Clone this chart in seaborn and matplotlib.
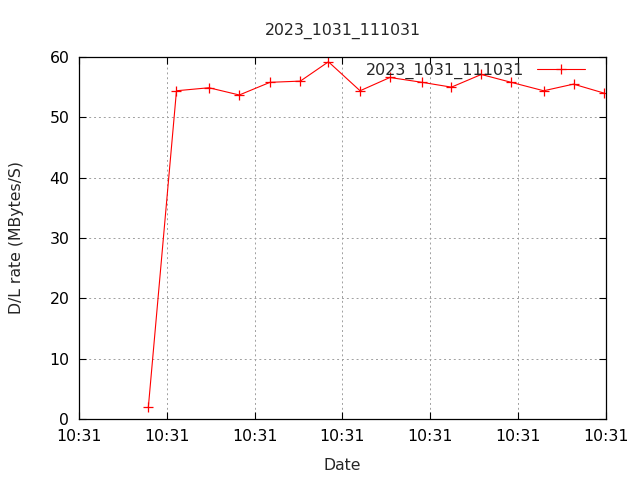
import pandas as pd
import matplotlib
matplotlib.use("Agg")
import matplotlib.pyplot as plt
import seaborn as sns

# seconds after 10:31:00 and download rate
seconds = [7.9, 11.1, 14.8, 18.25, 21.75, 25.2, 28.4, 32.0, 35.4, 39.05,
           42.4, 45.8, 49.2, 52.9, 56.3, 59.8]
rate = [2.0, 54.4, 54.9, 53.7, 55.8, 56.0, 59.2, 54.4, 56.6, 55.8,
        55.0, 57.1, 55.8, 54.4, 55.5, 54.0]
x_ticks = [0, 10, 20, 30, 40, 50, 60]
x_tick_labels = ["10:31"] * 7
y_ticks = [0, 10, 20, 30, 40, 50, 60]
run_name = "2023_1031_111031"

df = pd.DataFrame({"sec": seconds, "rate": rate})

sns.set_style("ticks")
plt.rcParams["font.family"] = ["DejaVu Sans"]
fs = 11.3

fig = plt.figure(figsize=(6.4, 4.8), dpi=100)
ax = fig.add_axes([0.1234, 0.1271, 0.8235, 0.7542])

sns.lineplot(data=df, x="sec", y="rate", ax=ax, color="red", lw=0.8,
             marker="+", markersize=7, markeredgewidth=0.9,
             markeredgecolor="red", label=run_name)

ax.set_xlim(0, 60)
ax.set_ylim(0, 60)
ax.set_xticks(x_ticks)
ax.set_xticklabels(x_tick_labels)
ax.set_yticks(y_ticks)
ax.tick_params(direction="in", length=5, width=0.8, top=True, right=True,
               labelsize=fs, colors="black", pad=7)
ax.grid(True, color="#a0a0a0", linestyle=(0, (2, 3)), linewidth=0.7)
for s in ax.spines.values():
    s.set_visible(True)
    s.set_linewidth(0.9)
    s.set_color("black")

ax.set_title(run_name, fontsize=fs, pad=16)
ax.set_xlabel("Date", fontsize=fs, labelpad=10)
ax.set_ylabel("D/L rate (MBytes/S)", fontsize=fs, labelpad=18)

ax.legend(loc="upper right", bbox_to_anchor=(0.987, 1.025), frameon=False,
          markerfirst=False, handlelength=3.0, handletextpad=0.8,
          fontsize=fs + 0.2)

fig.savefig("out.png", dpi=100)
